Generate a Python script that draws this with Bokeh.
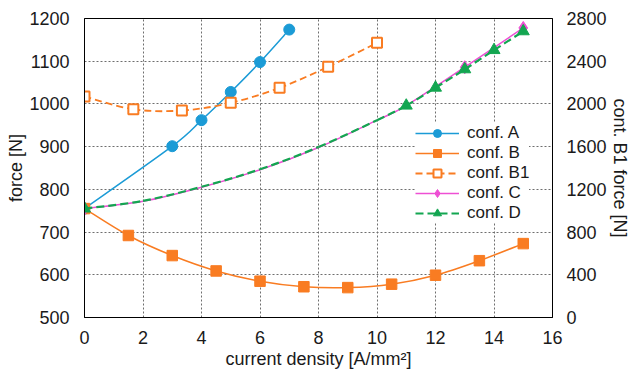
from bokeh.plotting import figure
from bokeh.models import (Range1d, LinearAxis, SingleIntervalTicker, ColumnDataSource,
                          Legend, LegendItem)
from bokeh.embed import file_html
from bokeh.resources import INLINE

# ---- data ----
A_x = [0, 3, 4, 5, 6, 7]
A_y = [755, 901, 962, 1028, 1098, 1174]

B_x = [0, 1.5, 3, 4.5, 6, 7.5, 9, 10.5, 12, 13.5, 15]
B_y = [755, 692, 645, 609, 585, 572, 570, 578, 599, 633, 673]

# conf. B1 is plotted against the right axis
B1_x = [0, 1.67, 3.33, 5, 6.67, 8.33, 10]
B1_y = [2070, 1950, 1938, 2010, 2151, 2348, 2572]

C_x = [0, 2, 4, 6, 8, 10, 11, 13, 15]
C_y = [755, 772, 805, 846, 898, 962, 996, 1086, 1178]
C_marker_x = [0, 13, 15]
C_marker_y = [755, 1086, 1178]

D_x = [0, 2, 4, 6, 8, 10, 11, 12, 13, 14, 15]
D_y = [755, 773, 806, 847, 899, 962, 996, 1038, 1081, 1126, 1170]
D_marker_x = [0, 11, 12, 13, 14, 15]
D_marker_y = [755, 996, 1038, 1081, 1126, 1170]

x_ticks_interval = 2
left_range = (500, 1200)
right_range = (0, 2800)

FONT = "Liberation Sans"
TXT = "#1a1a1a"

BLUE = "#1b9bd6"
ORANGE = "#f97c22"
PINK = "#ee4fd4"
GREEN = "#13a651"


def smooth_source(xs, ys):
    """Bezier control points (Catmull-Rom style, like a spreadsheet 'smoothed line')."""
    n = len(xs)
    d = dict(x0=[], y0=[], x1=[], y1=[], cx0=[], cy0=[], cx1=[], cy1=[])
    for i in range(n - 1):
        p0 = (xs[i - 1], ys[i - 1]) if i > 0 else (xs[i], ys[i])
        p1 = (xs[i], ys[i])
        p2 = (xs[i + 1], ys[i + 1])
        p3 = (xs[i + 2], ys[i + 2]) if i + 2 < n else (xs[i + 1], ys[i + 1])
        d["x0"].append(p1[0]); d["y0"].append(p1[1])
        d["x1"].append(p2[0]); d["y1"].append(p2[1])
        d["cx0"].append(p1[0] + (p2[0] - p0[0]) / 6.0)
        d["cy0"].append(p1[1] + (p2[1] - p0[1]) / 6.0)
        d["cx1"].append(p2[0] - (p3[0] - p1[0]) / 6.0)
        d["cy1"].append(p2[1] - (p3[1] - p1[1]) / 6.0)
    return ColumnDataSource(d)


p = figure(width=633, height=372, output_backend="svg", toolbar_location=None,
           x_range=Range1d(0, 16), y_range=Range1d(*left_range),
           min_border_left=84, min_border_right=81, min_border_top=18, min_border_bottom=55)
p.extra_y_ranges = {"right": Range1d(*right_range)}

p.outline_line_color = "black"
p.outline_line_width = 1
p.background_fill_color = "white"
p.border_fill_color = "white"

# axes
p.xaxis.ticker = SingleIntervalTicker(interval=x_ticks_interval)
p.yaxis.ticker = SingleIntervalTicker(interval=100)
p.xaxis.axis_label = "current density [A/mm²]"
p.yaxis.axis_label = "force [N]"

right_axis = LinearAxis(y_range_name="right", ticker=SingleIntervalTicker(interval=400),
                        axis_label="cont. B1 force [N]")
p.add_layout(right_axis, "right")

for ax in [p.xaxis[0], p.yaxis[0], right_axis]:
    ax.major_tick_out = 0
    ax.major_tick_in = 0
    ax.minor_tick_out = 0
    ax.minor_tick_in = 0
    ax.axis_line_color = "black"
    ax.major_label_text_font = FONT
    ax.major_label_text_font_size = "18px"
    ax.major_label_text_color = TXT
    ax.axis_label_text_font = FONT
    ax.axis_label_text_font_size = "18px"
    ax.axis_label_text_font_style = "normal"
    ax.axis_label_text_color = TXT
    ax.major_label_standoff = 15

p.xaxis.major_label_standoff = 13
p.xaxis.axis_label_standoff = 2
p.yaxis.axis_label_standoff = 0
right_axis.major_label_standoff = 14
right_axis.axis_label_standoff = 0

# grid
for g in [p.xgrid[0], p.ygrid[0]]:
    g.grid_line_color = "#6e6e6e"
    g.grid_line_dash = "2 2"
    g.grid_line_width = 1
p.xgrid.ticker = SingleIntervalTicker(interval=x_ticks_interval)
p.ygrid.ticker = SingleIntervalTicker(interval=100)

# ---- series ----
srcA = smooth_source(A_x, A_y)
lA = p.bezier(x0="x0", y0="y0", x1="x1", y1="y1", cx0="cx0", cy0="cy0", cx1="cx1", cy1="cy1",
              source=srcA, line_color=BLUE, line_width=1.5)
mA = p.scatter(A_x, A_y, marker="circle", size=11, fill_color=BLUE, line_color=BLUE)

srcB = smooth_source(B_x, B_y)
lB = p.bezier(x0="x0", y0="y0", x1="x1", y1="y1", cx0="cx0", cy0="cy0", cx1="cx1", cy1="cy1",
              source=srcB, line_color=ORANGE, line_width=1.5)
mB = p.scatter(B_x, B_y, marker="square", size=10.5, fill_color=ORANGE, line_color=ORANGE)

srcB1 = smooth_source(B1_x, B1_y)
lB1 = p.bezier(x0="x0", y0="y0", x1="x1", y1="y1", cx0="cx0", cy0="cy0", cx1="cx1", cy1="cy1",
               source=srcB1, line_color=ORANGE, line_width=1.8, line_dash="7 4",
               y_range_name="right")
mB1 = p.scatter(B1_x, B1_y, marker="square", size=10, fill_color="white", line_color=ORANGE,
                line_width=2, y_range_name="right")

srcC = smooth_source(C_x, C_y)
lC = p.bezier(x0="x0", y0="y0", x1="x1", y1="y1", cx0="cx0", cy0="cy0", cx1="cx1", cy1="cy1",
              source=srcC, line_color=PINK, line_width=1.5)
mC = p.scatter(C_marker_x, C_marker_y, marker="diamond", size=13, fill_color=PINK, line_color=PINK)

srcD = smooth_source(D_x, D_y)
lD = p.bezier(x0="x0", y0="y0", x1="x1", y1="y1", cx0="cx0", cy0="cy0", cx1="cx1", cy1="cy1",
              source=srcD, line_color=GREEN, line_width=2.2, line_dash="8 4")
mD = p.scatter(D_marker_x, D_marker_y, marker="triangle", size=12, fill_color=GREEN, line_color=GREEN)

legend = Legend(items=[
    LegendItem(label="conf. A", renderers=[lA, mA]),
    LegendItem(label="conf. B", renderers=[lB, mB]),
    LegendItem(label="conf. B1", renderers=[lB1, mB1]),
    LegendItem(label="conf. C", renderers=[lC, mC]),
    LegendItem(label="conf. D", renderers=[lD, mD]),
], location=(331, 94))
legend.border_line_color = None
legend.background_fill_color = "white"
legend.background_fill_alpha = 1
legend.label_text_font = FONT
legend.label_text_font_size = "17px"
legend.label_text_color = TXT
legend.glyph_width = 44
legend.glyph_height = 20
legend.label_height = 20
legend.label_standoff = 8
legend.spacing = 0
legend.padding = 5
legend.margin = 0
p.add_layout(legend)

open("out.html", "w").write(file_html(p, INLINE))
